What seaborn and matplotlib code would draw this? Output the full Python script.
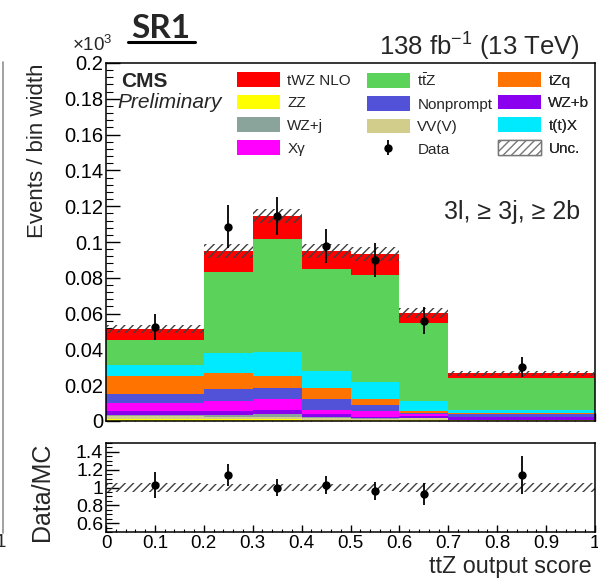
import numpy as np
import pandas as pd
import matplotlib
matplotlib.use("Agg")
import matplotlib.pyplot as plt
import seaborn as sns
from matplotlib.patches import Patch
from matplotlib.lines import Line2D
from matplotlib.ticker import MultipleLocator, FuncFormatter

# ---------------------------------------------------------------- data
bin_edges = [0.0, 0.2, 0.3, 0.4, 0.5, 0.6, 0.7, 1.0]
bin_centers = [0.1, 0.25, 0.35, 0.45, 0.55, 0.65, 0.85]

# expected events / bin width (x10^3), listed from the top of the stack down
processes = ["tWZ NLO", "ttZ", "t(t)X", "tZq", "Nonprompt", "Xγ", "WZ+b", "WZ+j", "VV(V)", "ZZ"]
twz_nlo   = [0.0060, 0.0116, 0.0130, 0.0104, 0.0118, 0.0056, 0.0024]
ttz       = [0.0139, 0.0452, 0.0628, 0.0566, 0.0595, 0.0434, 0.0181]
ttx       = [0.0062, 0.0112, 0.0136, 0.0098, 0.0097, 0.0054, 0.0018]
tzq       = [0.0102, 0.0093, 0.0068, 0.0060, 0.0034, 0.0011, 0.0005]
nonprompt = [0.0050, 0.0065, 0.0060, 0.0062, 0.0031, 0.0007, 0.0015]
xgamma    = [0.0041, 0.0054, 0.0063, 0.0021, 0.0036, 0.0012, 0.0003]
wz_b      = [0.0022, 0.0022, 0.0023, 0.0018, 0.0006, 0.0012, 0.0012]
wz_j      = [0.0009, 0.0014, 0.0015, 0.0006, 0.0004, 0.0002, 0.0002]
vvv       = [0.0015, 0.0012, 0.0012, 0.0008, 0.0006, 0.0006, 0.0003]
zz        = [0.0012, 0.0010, 0.0010, 0.0008, 0.0006, 0.0008, 0.0003]
yields = [twz_nlo, ttz, ttx, tzq, nonprompt, xgamma, wz_b, wz_j, vvv, zz]

data_vals = [0.0527, 0.1086, 0.1145, 0.0978, 0.0900, 0.0560, 0.0303]
data_errs = [0.0073, 0.0120, 0.0105, 0.0095, 0.0095, 0.0075, 0.0056]
unc_rel   = [0.045, 0.04, 0.035, 0.04, 0.04, 0.045, 0.05]

colors = {
    "tWZ NLO": "#ff0000", "ttZ": "#5bd25a", "tZq": "#ff7400",
    "ZZ": "#ffff00", "Nonprompt": "#5252d8", "WZ+b": "#8c00f0",
    "WZ+j": "#8aa49c", "VV(V)": "#d2cd8a", "t(t)X": "#00eaff",
    "Xγ": "#ff00ff",
}
legend_labels = {"ttZ": r"$\mathregular{t\bar{t}Z}$"}

rows = []
for proc, vals in zip(processes, yields):
    for c, v in zip(bin_centers, vals):
        rows.append({"score": c, "yield": v, "process": proc})
df = pd.DataFrame(rows)

total = np.sum(np.array(yields), axis=0)
data_vals = np.array(data_vals)
data_errs = np.array(data_errs)
unc_rel = np.array(unc_rel)

# ---------------------------------------------------------------- style
sns.set_theme(style="white")
plt.rcParams["font.family"] = ["Liberation Sans", "DejaVu Sans"]
plt.rcParams["mathtext.fontset"] = "custom"
plt.rcParams["mathtext.rm"] = "Liberation Sans"
plt.rcParams["mathtext.it"] = "Liberation Sans:italic"
plt.rcParams["hatch.linewidth"] = 1.0

W, H = 598, 583
fig = plt.figure(figsize=(W / 100, H / 100), dpi=100)

def fx(px):
    return px / W

def fy(py):
    return 1 - py / H

ax = fig.add_axes([fx(106), fy(421), (595 - 106) / W, (421 - 63) / H])
ax_r = fig.add_axes([fx(106), fy(532), (595 - 106) / W, (532 - 443) / H])

# stacked expectation
sns.histplot(data=df, x="score", weights="yield", hue="process",
             hue_order=processes, multiple="stack", bins=bin_edges,
             palette=colors, alpha=1, linewidth=0, element="bars",
             legend=False, ax=ax)

# uncertainty band
step_x = bin_edges
tot_step = np.append(total, total[-1])
unc_step = np.append(unc_rel, unc_rel[-1])
ax.fill_between(step_x, tot_step * (1 - unc_step), tot_step * (1 + unc_step),
                step="post", facecolor="none", edgecolor="#404040",
                hatch="////", linewidth=0, zorder=3)

# data
data_cont = ax.errorbar(bin_centers, data_vals, yerr=data_errs, fmt="o",
                        color="black", markersize=5, elinewidth=1.3,
                        capsize=0, zorder=5)

ax.set_xlim(0, 1)
ax.set_ylim(0, 0.2)
ax.xaxis.set_major_locator(MultipleLocator(0.1))
ax.xaxis.set_minor_locator(MultipleLocator(0.02))
ax.yaxis.set_major_locator(MultipleLocator(0.02))
ax.yaxis.set_minor_locator(MultipleLocator(0.004))
ax.yaxis.set_major_formatter(FuncFormatter(lambda v, p: f"{v:g}"))
ax.tick_params(axis="x", which="both", direction="in", labelbottom=False,
               bottom=True, top=False, colors="black")
ax.tick_params(axis="x", which="major", length=6, width=1)
ax.tick_params(axis="x", which="minor", length=3, width=0.8)
ax.tick_params(axis="y", which="both", direction="in", left=True,
               right=False, colors="black", labelsize=14.5, pad=2)
ax.tick_params(axis="y", which="major", length=10, width=1)
ax.tick_params(axis="y", which="minor", length=5, width=0.8)
ax.set_xlabel("")
ax.set_ylabel("Events / bin width", fontsize=16, loc="top")
ax.yaxis.set_label_coords((48 - 106) / 489, 1.0)
for s in ax.spines.values():
    s.set_color("black")
    s.set_linewidth(1.1)

# ratio panel
ratio = data_vals / total
ratio_err = data_errs / total
r_lo = np.append(1 - unc_rel, 1 - unc_rel[-1])
r_hi = np.append(1 + unc_rel, 1 + unc_rel[-1])
ax_r.fill_between(step_x, r_lo, r_hi, step="post", facecolor="none",
                  edgecolor="#404040", hatch="////", linewidth=0, zorder=2)
ax_r.errorbar(bin_centers, ratio, yerr=ratio_err, fmt="o", color="black",
              markersize=5, elinewidth=1.3, capsize=0, zorder=5)
ax_r.set_xlim(0, 1)
ax_r.set_ylim(0.5, 1.5)
ax_r.xaxis.set_major_locator(MultipleLocator(0.1))
ax_r.xaxis.set_minor_locator(MultipleLocator(0.02))
ax_r.yaxis.set_major_locator(MultipleLocator(0.2))
ax_r.yaxis.set_minor_locator(MultipleLocator(0.05))
fmt = FuncFormatter(lambda v, p: f"{round(v, 3):g}")
ax_r.xaxis.set_major_formatter(fmt)
ax_r.yaxis.set_major_formatter(fmt)
ax_r.tick_params(axis="x", which="both", direction="in", bottom=True,
                 colors="black", labelsize=13.5, pad=2)
ax_r.tick_params(axis="x", which="major", length=5, width=1)
ax_r.tick_params(axis="x", which="minor", length=2.5, width=0.8)
ax_r.tick_params(axis="y", which="both", direction="in", left=True,
                 colors="black", labelsize=14, pad=2)
ax_r.tick_params(axis="y", which="major", length=9, width=1)
ax_r.tick_params(axis="y", which="minor", length=4.5, width=0.8)
ax_r.set_ylabel("Data/MC", fontsize=18, loc="top")
ax_r.yaxis.set_label_coords((54 - 106) / 489, 1.0)
ax_r.set_xlabel("ttZ output score", fontsize=16.8, loc="right")
ax_r.xaxis.set_label_coords((592 - 106) / 489, -0.26)
for s in ax_r.spines.values():
    s.set_color("black")
    s.set_linewidth(1.1)

# legend, three columns of four entries
entries = [
    ["tWZ NLO", "ZZ", "WZ+j", "Xγ"],
    ["ttZ", "Nonprompt", "VV(V)", "Data"],
    ["tZq", "WZ+b", "t(t)X", "Unc."],
]
col_x = [237, 367, 498]
for cx, col in zip(col_x, entries):
    handles, labels = [], []
    for name in col:
        if name == "Data":
            handles.append(data_cont)
        elif name == "Unc.":
            handles.append(Patch(facecolor="white", edgecolor="#777777",
                                 hatch="////", linewidth=1))
        else:
            handles.append(Patch(facecolor=colors[name], edgecolor="none"))
        labels.append(legend_labels.get(name, name))
    leg = ax.legend(handles, labels, loc="upper left",
                    bbox_to_anchor=((cx - 106) / 489, (421 - 72) / 358),
                    frameon=False, fontsize=11, handlelength=2.8,
                    handleheight=1.1, labelspacing=0.47, handletextpad=0.5,
                    borderpad=0, borderaxespad=0)
    ax.add_artist(leg)

# annotations
fig.text(fx(121), fy(87), "CMS", fontsize=15, fontweight="bold", ha="left",
         va="baseline")
fig.text(fx(117), fy(108), "Preliminary", fontsize=15, fontstyle="italic",
         ha="left", va="baseline")
fig.text(fx(580), fy(55.5), r"138 fb$^{\mathregular{-1}}$ (13 TeV)", fontsize=18.5,
         ha="right", va="baseline")
fig.text(fx(580), fy(219), "3l, ≥ 3j, ≥ 2b", fontsize=18, ha="right",
         va="baseline")
fig.text(fx(72), fy(51), r"$\mathregular{\times10^{3}}$", fontsize=13.5,
         ha="left", va="baseline")
fig.text(fx(161), fy(38), "SR1", fontsize=24, fontweight="bold",
         family=["Lato", "DejaVu Sans"], ha="center", va="baseline")
fig.add_artist(Line2D([fx(128), fx(195)], [fy(42), fy(42)], color="black",
                      linewidth=2.2))

# neighbouring panel edge on the left
fig.add_artist(Line2D([fx(2.5), fx(2.5)], [fy(62), fy(533)],
                      color="#909090", linewidth=1.2))
fig.text(fx(6), fy(547), "1", fontsize=13.5, ha="right", va="baseline")

fig.savefig("out.png", dpi=100)
